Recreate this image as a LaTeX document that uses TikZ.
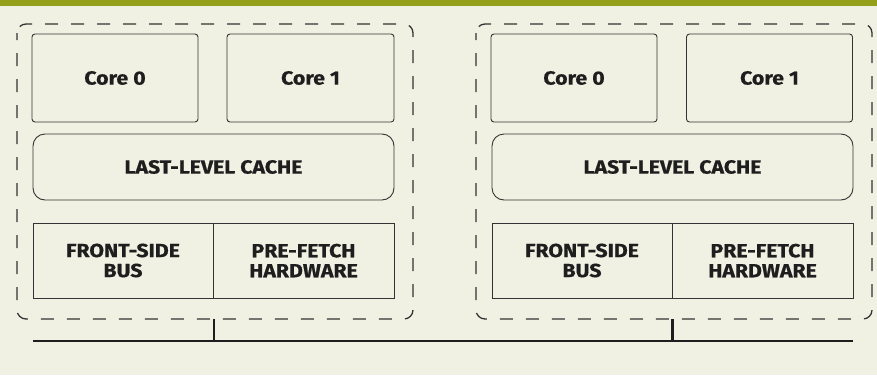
\documentclass[tikz,border=0pt]{standalone}
\usepackage{fontspec}
\newfontfamily\labelfont[FakeStretch=1.12,FakeBold=0.6]{Fira Sans Bold}
\definecolor{bgcream}{HTML}{F1F1E3}
\definecolor{topbar}{HTML}{95A01A}
\definecolor{ink}{HTML}{1E1E1E}
\definecolor{edge}{HTML}{333333}
\begin{document}
\begin{tikzpicture}[x=1pt,y=-1pt,
  unit/.style={draw=edge,line width=0.9pt,inner sep=0pt,text=ink,
    font=\labelfont\fontsize{19}{20}\selectfont,align=center},
  corebox/.style={unit,rounded corners=3pt},
  cachebox/.style={unit,rounded corners=12pt},
  plainbox/.style={unit},
  socket/.style={draw=edge,line width=1.3pt,dash pattern=on 13pt off 13pt,
    dash phase=6pt,rounded corners=9pt},
  bus/.style={draw=ink,line width=2.6pt}]
  \fill[bgcream] (0,0) rectangle (877,375);
  \fill[topbar] (0,0) rectangle (877,5.5);
  \useasboundingbox (0,0) rectangle (877,375);

  % left processor package
  \draw[socket] (17,24) rectangle (413,319);
  \node[corebox,minimum width=166pt,minimum height=88pt] (lc0) at (115,78) {Core 0};
  \node[corebox,minimum width=167pt,minimum height=88pt] (lc1) at (310.5,78) {Core 1};
  \node[cachebox,minimum width=361pt,minimum height=66pt] (lllc) at (213.5,167) {LAST-LEVEL CACHE};
  \node[plainbox,minimum width=180pt,minimum height=75pt] (lfsb) at (123,260.5) {FRONT-SIDE\\BUS};
  \node[plainbox,minimum width=181pt,minimum height=75pt] (lpf) at (303.5,260.5) {PRE-FETCH\\HARDWARE};

  % right processor package
  \draw[socket] (476,24) rectangle (872,319);
  \node[corebox,minimum width=166pt,minimum height=88pt] (rc0) at (574,78) {Core 0};
  \node[corebox,minimum width=166pt,minimum height=88pt] (rc1) at (769.5,78) {Core 1};
  \node[cachebox,minimum width=361pt,minimum height=66pt] (rllc) at (672.5,167) {LAST-LEVEL CACHE};
  \node[plainbox,minimum width=180pt,minimum height=75pt] (rfsb) at (582,260.5) {FRONT-SIDE\\BUS};
  \node[plainbox,minimum width=181pt,minimum height=75pt] (rpf) at (762.5,260.5) {PRE-FETCH\\HARDWARE};

  % system bus
  \coordinate (busL) at (33,341);
  \coordinate (busR) at (853,341);
  \coordinate (tapL) at (214,341);
  \coordinate (tapR) at (672.5,341);
  \coordinate (pkgL) at (214,319);
  \coordinate (pkgR) at (672.5,319);
  \draw[bus] (busL) -- (busR);
  \draw[bus] (pkgL) -- (tapL);
  \draw[bus] (pkgR) -- (tapR);
\end{tikzpicture}
\end{document}
